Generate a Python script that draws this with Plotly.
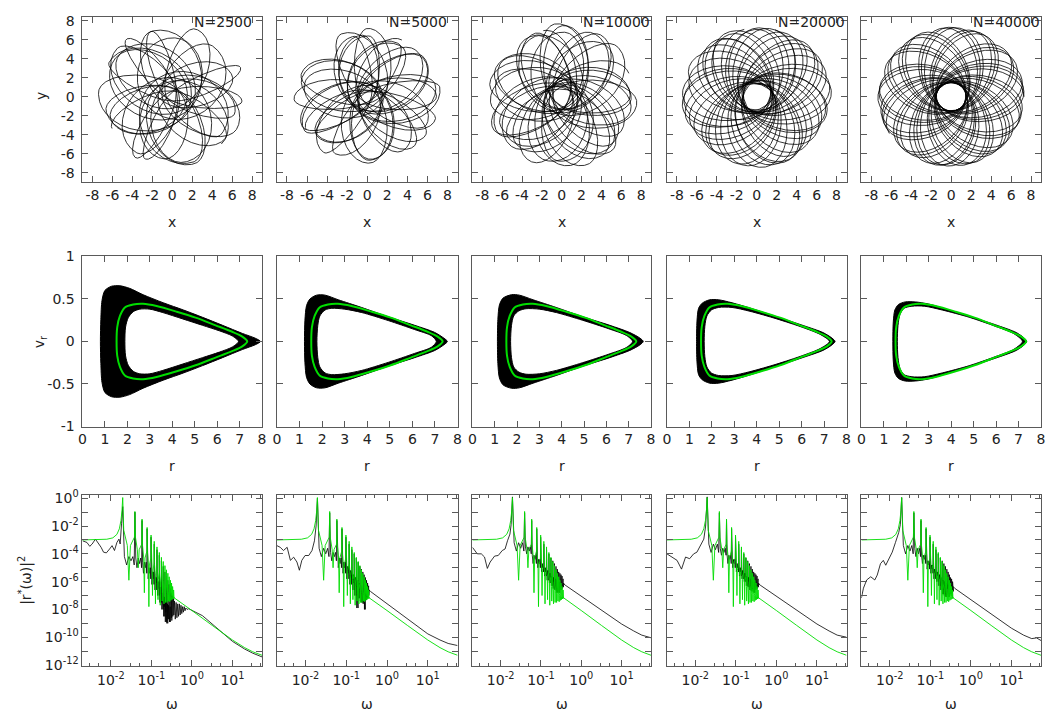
import numpy as np
import plotly.graph_objects as go
from plotly.subplots import make_subplots

# page = figure + default 8px body margin on each side -> exactly the 1055x724 window
PAGE_W, PAGE_H = 1055, 724
OFF = 8
W, H = PAGE_W - 2 * OFF, PAGE_H - 2 * OFF
FONT = "DejaVu Sans"
AXC = "#5a5a5a"
GREEN = "#00dd00"

PANEL_LABELS = ["N=2500", "N=5000", "N=10000", "N=20000", "N=40000"]

# ---------------- Row 1: orbit turning radii ----------------
PERI_2500 = [1.6, 0.9, 2.2, 1.2, 0.6, 2.4, 0.8, 1.9, 0.45, 0.35, 0.5, 0.4, 0.55, 0.38, 0.48,
             1.3, 2.0, 0.7, 1.7, 2.3, 1.0, 1.8, 0.9, 1.5, 2.1, 0.9, 1.4, 0.6]
APO_2500 = [7.0, 6.6, 7.4, 6.9, 7.5, 6.3, 7.2, 6.8, 7.3, 7.5, 7.1, 7.6, 7.0, 7.4, 7.2,
            6.5, 7.0, 6.9, 7.5, 6.2, 6.7, 7.3, 7.4, 6.6, 7.0, 7.2, 6.4, 6.9]
PERI_5000 = [1.0, 0.5, 1.4, 0.7, 1.7, 0.45, 1.1, 1.5, 0.6, 0.9, 1.3, 0.5, 1.6, 0.8, 1.2, 0.4,
             1.45, 1.0, 0.65, 1.55, 1.1, 0.55, 1.35, 0.85, 0.5, 1.65, 0.75, 1.25, 0.6, 1.4, 0.95, 0.7]
APO_5000 = [6.9, 7.2, 6.5, 7.0, 6.3, 7.3, 6.8, 6.4, 7.1, 6.9, 6.6, 7.2, 6.4, 7.0, 6.7, 7.3,
            6.5, 6.9, 7.1, 6.4, 6.8, 7.2, 6.6, 7.0, 7.3, 6.4, 6.9, 6.7, 7.2, 6.5, 6.9, 7.0]
PERI_10000 = [1.2, 0.8, 1.6, 1.0, 1.8, 0.9, 1.4, 1.7, 0.75, 1.3, 1.5, 0.9, 1.85, 1.1, 1.45, 0.8, 1.65, 1.25,
              1.0, 1.75, 1.35, 0.85, 1.55, 1.15, 0.8, 1.7, 1.05, 1.4, 0.95, 1.6, 1.2, 0.85, 1.5, 1.1, 1.8, 1.0]
APO_10000 = [7.2, 7.6, 6.9, 7.4, 6.8, 7.7, 7.1, 6.9, 7.5, 7.2, 7.0, 7.6, 6.8, 7.3, 7.1, 7.7, 6.9, 7.2,
             7.5, 6.8, 7.1, 7.6, 7.0, 7.3, 7.7, 6.9, 7.4, 7.1, 7.6, 6.9, 7.3, 7.5, 7.0, 7.4, 6.8, 7.2]
PERI_20000 = [1.55, 1.30, 1.72, 1.42, 1.62, 1.28, 1.76, 1.50, 1.38, 1.66, 1.33, 1.56, 1.74, 1.40,
              1.61, 1.30, 1.69, 1.47, 1.36, 1.63, 1.52, 1.34, 1.75, 1.43, 1.58, 1.31, 1.67, 1.49,
              1.39, 1.64, 1.45, 1.57, 1.29, 1.71, 1.44, 1.60, 1.35, 1.68, 1.48, 1.54]
APO_20000 = [7.20, 7.48, 7.08, 7.36, 7.24, 7.52, 7.04, 7.30, 7.42, 7.14, 7.46, 7.20, 7.06, 7.38,
             7.28, 7.50, 7.10, 7.32, 7.44, 7.16, 7.26, 7.47, 7.05, 7.36, 7.22, 7.45, 7.12, 7.30,
             7.41, 7.15, 7.34, 7.23, 7.49, 7.09, 7.37, 7.25, 7.43, 7.13, 7.31, 7.27]
PERI_40000 = [1.50, 1.47, 1.52, 1.46, 1.51, 1.49, 1.53, 1.45, 1.50, 1.52, 1.47, 1.51, 1.46, 1.50,
              1.53, 1.48, 1.45, 1.51, 1.50, 1.47, 1.52, 1.46, 1.49, 1.51, 1.50, 1.45, 1.52, 1.48,
              1.50, 1.49, 1.51, 1.47, 1.53, 1.46, 1.50, 1.48, 1.52, 1.47, 1.49, 1.51, 1.50, 1.48]
APO_40000 = [7.30, 7.27, 7.35, 7.25, 7.31, 7.28, 7.36, 7.26, 7.32, 7.30, 7.24, 7.33, 7.28, 7.31,
             7.26, 7.35, 7.30, 7.27, 7.32, 7.25, 7.31, 7.28, 7.34, 7.26, 7.30, 7.33, 7.27, 7.31,
             7.25, 7.30, 7.34, 7.28, 7.32, 7.26, 7.31, 7.29, 7.35, 7.27, 7.30, 7.33, 7.29, 7.31]
# orientation: apocentre angle (deg) of a reference loop in each panel
REF_LOOP = [8, 0, 0, 0, 0]
REF_LOOP_ANGLE_DEG = [150, 60, 20, 100, 0]

# ---------------- Row 2: phase-space curves (upper halves, mirrored) ----------------
GREEN_R = [1.52, 1.55, 1.67, 1.89, 2.26, 2.70, 3.30, 4.20, 5.04, 5.93, 6.67, 7.12, 7.34]
GREEN_VR = [0.0, 0.17, 0.30, 0.40, 0.435, 0.443, 0.417, 0.35, 0.28, 0.19, 0.114, 0.057, 0.0]

BAND_OUT_R = [
    [0.80, 0.82, 0.87, 1.00, 1.30, 1.67, 2.10, 2.70, 3.60, 4.50, 5.35, 6.24, 7.12, 7.70, 7.93],
    [1.22, 1.24, 1.31, 1.46, 1.76, 2.13, 2.72, 3.75, 4.93, 6.10, 6.99, 7.40, 7.55],
    [1.12, 1.14, 1.21, 1.37, 1.75, 2.10, 2.72, 3.75, 4.95, 6.15, 7.05, 7.50, 7.65],
    [1.32, 1.34, 1.41, 1.57, 1.90, 2.30, 2.90, 3.80, 4.95, 6.10, 6.95, 7.35, 7.49],
    [1.40, 1.42, 1.49, 1.65, 1.95, 2.40, 3.00, 3.90, 5.00, 6.10, 6.90, 7.25, 7.36],
]
BAND_OUT_VR = [
    [0.0, 0.26, 0.48, 0.60, 0.65, 0.655, 0.625, 0.55, 0.455, 0.37, 0.284, 0.19, 0.095, 0.038, 0.0],
    [0.0, 0.25, 0.42, 0.50, 0.545, 0.545, 0.49, 0.40, 0.29, 0.19, 0.106, 0.038, 0.0],
    [0.0, 0.26, 0.43, 0.51, 0.55, 0.545, 0.49, 0.40, 0.29, 0.19, 0.105, 0.04, 0.0],
    [0.0, 0.24, 0.39, 0.45, 0.49, 0.49, 0.455, 0.385, 0.285, 0.185, 0.105, 0.04, 0.0],
    [0.0, 0.23, 0.37, 0.435, 0.465, 0.465, 0.44, 0.37, 0.28, 0.185, 0.105, 0.04, 0.0],
]
BAND_IN_R = [
    [1.89, 1.92, 2.04, 2.26, 2.55, 3.00, 3.58, 4.47, 5.35, 6.10, 6.68, 6.95],
    [1.77, 1.81, 1.90, 2.13, 2.43, 3.00, 3.76, 4.93, 6.10, 6.84, 7.06],
    [1.71, 1.75, 1.85, 2.08, 2.40, 3.00, 3.76, 4.93, 6.10, 6.90, 7.17],
    [1.66, 1.69, 1.78, 1.98, 2.30, 2.90, 3.70, 4.90, 6.05, 6.85, 7.24],
    [1.60, 1.63, 1.72, 1.90, 2.25, 2.80, 3.60, 4.80, 5.95, 6.80, 7.17],
]
BAND_IN_VR = [
    [0.0, 0.17, 0.28, 0.35, 0.38, 0.38, 0.34, 0.265, 0.19, 0.125, 0.064, 0.0],
    [0.0, 0.19, 0.30, 0.37, 0.39, 0.38, 0.34, 0.246, 0.14, 0.068, 0.0],
    [0.0, 0.19, 0.30, 0.36, 0.385, 0.38, 0.34, 0.25, 0.15, 0.07, 0.0],
    [0.0, 0.18, 0.30, 0.37, 0.40, 0.40, 0.355, 0.265, 0.165, 0.08, 0.0],
    [0.0, 0.19, 0.32, 0.39, 0.415, 0.415, 0.37, 0.285, 0.18, 0.09, 0.0],
]

# ---------------- Row 3: spectra (log10 omega, log10 power) ----------------
LOG_W0 = -1.707           # fundamental radial frequency
HARMONICS = list(range(1, 19))

GREEN_LOW_LW = [-2.70, -2.40, -2.10, -1.95, -1.85, -1.79, -1.75, -1.725]
GREEN_LOW_LP = [-3.00, -3.00, -2.95, -2.85, -2.60, -2.20, -1.60, -0.90]
GREEN_PEAK = [0.05, -0.95, -1.5, -2.1, -2.65, -3.1, -3.5, -3.9, -4.25, -4.55, -4.85, -5.15,
              -5.4, -5.65, -5.9, -6.1, -6.35, -6.6]
GREEN_SHOULDER = [-2.3, -2.8, -3.3, -3.8, -4.3, -4.7, -5.0, -5.3, -5.6, -5.9, -6.1, -6.3,
                  -6.5, -6.7, -6.85, -6.95, -7.05, -7.1]
GREEN_BASE = [-3.4, -3.7, -4.3, -4.8, -5.2, -5.55, -5.85, -6.1, -6.35, -6.55, -6.7, -6.85,
              -6.95, -7.0, -7.05, -7.1, -7.12, -7.12]
GREEN_DIP = [-5.9, -5.0, -6.8, -7.8, -7.0, -7.6, -7.3, -7.7, -7.4, -7.6, -7.5, -7.5,
             -7.4, -7.45, -7.35, -7.3, -7.25, -7.2]
GREEN_TAIL_LW = [-0.46, -0.20, 0.00, 0.50, 1.00, 1.30, 1.50, 1.73]
GREEN_TAIL_LP = [-7.12, -7.65, -8.08, -9.15, -10.2, -10.75, -11.05, -11.3]

BLACK_LOW_LW = [
    [-2.70, -2.59, -2.52, -2.46, -2.38, -2.32, -2.24, -2.18, -2.11, -2.03, -1.97, -1.91, -1.85, -1.80, -1.77, -1.735],
    [-2.70, -2.62, -2.54, -2.45, -2.37, -2.29, -2.21, -2.15, -2.09, -2.01, -1.92, -1.84, -1.78, -1.74],
    [-2.70, -2.58, -2.48, -2.40, -2.33, -2.26, -2.15, -2.06, -1.96, -1.89, -1.83, -1.77, -1.74],
    [-2.70, -2.57, -2.45, -2.34, -2.24, -2.14, -2.04, -1.96, -1.88, -1.79, -1.745],
    [-2.70, -2.65, -2.57, -2.47, -2.37, -2.31, -2.23, -2.16, -2.10, -2.02, -1.94, -1.86, -1.78, -1.74],
]
BLACK_LOW_LP = [
    [-3.06, -3.18, -3.46, -3.29, -2.94, -3.18, -3.53, -3.88, -3.93, -3.65, -3.41, -3.76, -3.18, -2.94, -3.29, -1.8],
    [-3.41, -3.53, -3.76, -3.53, -4.47, -4.24, -4.59, -5.18, -4.47, -4.12, -4.12, -3.76, -3.06, -2.0],
    [-3.53, -4.00, -4.00, -4.23, -5.05, -4.59, -4.16, -4.12, -3.76, -3.65, -3.06, -2.58, -1.9],
    [-4.00, -4.23, -4.47, -5.10, -4.23, -4.35, -4.00, -3.88, -3.41, -2.94, -2.0],
    [-7.18, -6.47, -5.88, -5.65, -5.88, -5.53, -4.71, -4.47, -4.82, -4.35, -3.88, -3.18, -2.47, -1.9],
]
BLACK_PEAK = [
    [-0.6, -1.0, -1.6, -2.2, -2.8, -3.3, -3.7, -4.1, -4.5, -4.9, -5.3, -5.6, -5.9, -6.2, -6.5, -6.8, -7.0, -7.2],
    [0.0, -1.05, -1.6, -2.2, -2.8, -3.3, -3.7, -4.0, -4.3, -4.6, -4.9, -5.1, -5.3, -5.5, -5.7, -5.9, -6.1, -6.3],
    [0.1, -1.05, -1.6, -2.2, -2.8, -3.3, -3.7, -4.0, -4.3, -4.5, -4.7, -4.9, -5.1, -5.3, -5.4, -5.5, -5.6, -5.8],
    [0.1, -1.05, -1.6, -2.2, -2.8, -3.3, -3.7, -4.0, -4.3, -4.5, -4.7, -4.9, -5.1, -5.3, -5.4, -5.5, -5.6, -5.8],
    [0.05, -1.05, -1.6, -2.2, -2.8, -3.3, -3.7, -4.0, -4.3, -4.5, -4.7, -4.9, -5.1, -5.3, -5.5, -5.7, -5.8, -6.0],
]
BLACK_BASE = [
    [-4.2, -4.3, -4.6, -5.0, -5.3, -5.7, -6.0, -6.4, -6.8, -7.1, -7.4, -7.6, -7.7, -7.8, -7.8, -7.7, -7.6, -7.5],
    [-3.6, -3.9, -4.3, -4.6, -4.9, -5.2, -5.5, -5.7, -5.9, -6.1, -6.2, -6.3, -6.4, -6.5, -6.55, -6.6, -6.6, -6.6],
    [-3.2, -3.5, -4.1, -4.4, -4.7, -5.0, -5.2, -5.4, -5.6, -5.7, -5.8, -5.9, -6.0, -6.0, -6.05, -6.1, -6.1, -6.1],
    [-3.3, -3.6, -4.1, -4.4, -4.7, -5.0, -5.2, -5.4, -5.6, -5.7, -5.8, -5.9, -6.0, -6.0, -6.05, -6.1, -6.1, -6.1],
    [-3.4, -3.6, -4.1, -4.5, -4.8, -5.1, -5.3, -5.5, -5.7, -5.9, -6.0, -6.1, -6.2, -6.25, -6.3, -6.3, -6.35, -6.35],
]
BLACK_DROP_A = [
    [-4.8, -5.0, -5.4, -5.8, -6.2, -6.6, -7.0, -7.5, -8.0, -8.5, -8.9, -9.0, -8.7, -8.9, -8.6, -8.8, -8.5, -8.4],
    [-4.2, -4.5, -5.0, -5.4, -5.8, -6.2, -6.6, -7.0, -7.9, -7.2, -7.4, -7.5, -7.6, -8.0, -7.3, -7.2, -7.1, -7.0],
    [-3.8, -4.0, -4.7, -5.0, -5.3, -5.6, -5.9, -6.1, -6.3, -6.5, -6.6, -6.8, -6.7, -6.8, -6.6, -6.6, -6.5, -6.4],
    [-3.9, -4.1, -4.7, -5.0, -5.3, -5.6, -5.8, -6.0, -6.3, -6.4, -6.6, -6.7, -6.7, -6.8, -6.6, -6.5, -6.5, -6.4],
    [-4.0, -4.2, -4.7, -5.1, -5.4, -5.8, -6.0, -6.3, -6.6, -6.9, -7.0, -7.1, -7.0, -7.1, -6.9, -6.9, -6.8, -6.7],
]
BLACK_DROP_B = [
    [-4.5, -4.7, -5.0, -5.4, -5.8, -6.1, -6.5, -6.9, -7.4, -7.8, -8.2, -8.4, -8.3, -8.5, -8.3, -8.4, -8.2, -8.1],
    [-4.0, -4.2, -4.7, -5.0, -5.4, -5.7, -6.1, -6.3, -6.6, -6.8, -6.9, -7.0, -7.1, -7.2, -7.0, -6.9, -6.9, -6.8],
    [-3.6, -3.8, -4.4, -4.7, -5.0, -5.3, -5.5, -5.7, -5.9, -6.0, -6.2, -6.3, -6.4, -6.4, -6.4, -6.3, -6.3, -6.2],
    [-3.7, -3.9, -4.4, -4.7, -5.0, -5.3, -5.5, -5.7, -5.9, -6.0, -6.2, -6.3, -6.4, -6.4, -6.4, -6.3, -6.3, -6.2],
    [-3.8, -4.0, -4.4, -4.8, -5.1, -5.4, -5.6, -5.8, -6.0, -6.2, -6.3, -6.5, -6.5, -6.6, -6.6, -6.5, -6.5, -6.4],
]
BLACK_EXTRA_LW = [
    [-0.43, -0.41, -0.39, -0.37, -0.35, -0.33, -0.31, -0.29, -0.27, -0.25, -0.23, -0.21, -0.19, -0.17, -0.15, -0.12],
    [-0.44], [-0.44], [-0.44], [-0.44],
]
BLACK_EXTRA_LP = [
    [-7.4, -8.7, -7.5, -8.6, -7.6, -8.5, -7.6, -8.4, -7.7, -8.3, -7.8, -8.2, -7.8, -8.1, -7.9, -8.0],
    [-6.6], [-6.15], [-6.15], [-6.35],
]
BLACK_TAIL_LW = [
    [-0.08, 0.26, 0.50, 1.00, 1.30, 1.50, 1.73],
    [-0.40, 0.00, 0.50, 1.00, 1.30, 1.50, 1.73],
    [-0.40, 0.00, 0.50, 1.00, 1.30, 1.50, 1.73],
    [-0.40, 0.00, 0.50, 1.00, 1.30, 1.50, 1.73],
    [-0.40, 0.00, 0.50, 1.00, 1.30, 1.50, 1.62, 1.73],
]
BLACK_TAIL_LP = [
    [-7.95, -8.45, -9.05, -10.3, -10.85, -11.15, -11.42],
    [-6.72, -7.60, -8.65, -9.76, -10.2, -10.45, -10.6],
    [-6.25, -7.05, -8.05, -9.05, -9.55, -9.85, -10.04],
    [-6.25, -7.05, -8.05, -9.05, -9.55, -9.85, -10.0],
    [-6.48, -7.30, -8.30, -9.35, -9.85, -10.1, -10.05, -10.24],
]

# ---------------- layout geometry (pixels in the 1055x724 window) ----------------
COL_PX = [(79, 260), (275, 457), (472, 652), (668, 849), (864, 1045)]
ROW_PX = [(9, 178), (254, 428), (498, 673)]


def fx(px):
    return (px - OFF) / W


def fy(py):
    return 1 - (py - OFF) / H


def phi(r):
    return -1.0 / np.sqrt(r * r + 1.0)


def half_orbit(rp, ra, outward, nu=160):
    L2 = 2.0 * (phi(ra) - phi(rp)) / (1.0 / rp ** 2 - 1.0 / ra ** 2)
    E = 0.5 * L2 / rp ** 2 + phi(rp)
    u = np.linspace(0.0, np.pi, nu + 1)
    du = u[1] - u[0]
    um = 0.5 * (u[1:] + u[:-1])
    rm = 0.5 * (ra + rp) - 0.5 * (ra - rp) * np.cos(um)
    vr = np.sqrt(np.maximum(2.0 * (E - phi(rm)) - L2 / rm ** 2, 1e-14))
    dth = np.sqrt(L2) / rm ** 2 * 0.5 * (ra - rp) * np.sin(um) / vr * du
    r = 0.5 * (ra + rp) - 0.5 * (ra - rp) * np.cos(u)
    th = np.concatenate([[0.0], np.cumsum(dth)])
    if not outward:
        r = r[::-1]
        th = th[-1] - th[::-1]
    return r, th


def orbit_xy(peri, apo, ref_loop, ref_deg):
    th0 = 0.0
    rs, ts, apo_angles = [], [], []
    K = len(peri)
    for k in range(K):
        apo_angles.append(th0)
        r1, t1 = half_orbit(peri[k], apo[k], outward=False)
        rs.append(r1)
        ts.append(t1 + th0)
        th0 = th0 + t1[-1]
        r2, t2 = half_orbit(peri[k], apo[min(k + 1, K - 1)], outward=True)
        rs.append(r2)
        ts.append(t2 + th0)
        th0 = th0 + t2[-1]
    r = np.concatenate(rs)
    t = np.concatenate(ts) + (np.deg2rad(ref_deg) - apo_angles[ref_loop])
    return r * np.cos(t), r * np.sin(t)


def closed(rl, vl):
    r = list(rl) + list(rl[::-1][1:])
    v = list(vl) + [-x for x in vl[::-1][1:]]
    return r, v


def lw_of(n):
    return LOG_W0 + np.log10(n)


def spectrum_green():
    lw = list(GREEN_LOW_LW)
    lp = list(GREEN_LOW_LP)
    for i, n in enumerate(HARMONICS):
        if i > 0:
            lw.append(lw_of(n - 0.05))
            lp.append(GREEN_SHOULDER[i])
        lw += [lw_of(n), lw_of(n + 0.06), lw_of(n + 0.3), lw_of(n + 0.42), lw_of(n + 0.55)]
        lp += [GREEN_PEAK[i], GREEN_SHOULDER[i], GREEN_BASE[i], GREEN_DIP[i], GREEN_BASE[i]]
    lw += GREEN_TAIL_LW
    lp += GREEN_TAIL_LP
    return 10 ** np.array(lw), 10 ** np.array(lp)


def spectrum_black(j):
    lw = list(BLACK_LOW_LW[j])
    lp = list(BLACK_LOW_LP[j])
    for i, n in enumerate(HARMONICS):
        lw += [lw_of(n), lw_of(n + 0.1), lw_of(n + 0.25), lw_of(n + 0.42),
               lw_of(n + 0.6), lw_of(n + 0.78), lw_of(n + 0.92)]
        lp += [BLACK_PEAK[j][i], BLACK_BASE[j][i], BLACK_DROP_A[j][i], BLACK_BASE[j][i],
               BLACK_DROP_B[j][i], BLACK_BASE[j][i], BLACK_DROP_A[j][i]]
    lw += BLACK_EXTRA_LW[j] + BLACK_TAIL_LW[j]
    lp += BLACK_EXTRA_LP[j] + BLACK_TAIL_LP[j]
    return 10 ** np.array(lw), 10 ** np.array(lp)


fig = make_subplots(rows=3, cols=5)

ORBITS = [(PERI_2500, APO_2500), (PERI_5000, APO_5000), (PERI_10000, APO_10000),
          (PERI_20000, APO_20000), (PERI_40000, APO_40000)]

for c in range(5):
    x, y = orbit_xy(ORBITS[c][0], ORBITS[c][1], REF_LOOP[c], REF_LOOP_ANGLE_DEG[c])
    fig.add_trace(go.Scatter(x=x, y=y, mode="lines", line=dict(color="black", width=0.8),
                             hoverinfo="skip", showlegend=False), row=1, col=c + 1)

    ro, vo = closed(BAND_OUT_R[c], BAND_OUT_VR[c])
    fig.add_trace(go.Scatter(x=ro, y=vo, mode="lines", fill="toself", fillcolor="black",
                             line=dict(color="black", width=1, shape="spline", smoothing=0.8),
                             hoverinfo="skip", showlegend=False), row=2, col=c + 1)
    ri, vi = closed(BAND_IN_R[c], BAND_IN_VR[c])
    fig.add_trace(go.Scatter(x=ri, y=vi, mode="lines", fill="toself", fillcolor="white",
                             line=dict(color="black", width=1, shape="spline", smoothing=0.8),
                             hoverinfo="skip", showlegend=False), row=2, col=c + 1)
    rg, vg = closed(GREEN_R, GREEN_VR)
    fig.add_trace(go.Scatter(x=rg, y=vg, mode="lines",
                             line=dict(color=GREEN, width=2, shape="spline", smoothing=0.8),
                             hoverinfo="skip", showlegend=False), row=2, col=c + 1)

    bx, by = spectrum_black(c)
    fig.add_trace(go.Scatter(x=bx, y=by, mode="lines", line=dict(color="black", width=0.8),
                             hoverinfo="skip", showlegend=False), row=3, col=c + 1)
    gx, gy = spectrum_green()
    fig.add_trace(go.Scatter(x=gx, y=gy, mode="lines", line=dict(color=GREEN, width=0.9),
                             hoverinfo="skip", showlegend=False), row=3, col=c + 1)

tickfont = dict(family=FONT, size=14, color="#222")
common = dict(showline=True, linecolor=AXC, linewidth=1, mirror="ticks", ticks="inside",
              tickcolor=AXC, ticklen=6, showgrid=False, zeroline=False, tickfont=tickfont,
              tickangle=0)

EVEN_TICKS = list(range(-8, 9, 2))
EVEN_TEXT = [str(v) for v in EVEN_TICKS]

for r in range(3):
    for c in range(5):
        idx = r * 5 + c + 1
        xa = "xaxis" if idx == 1 else "xaxis%d" % idx
        ya = "yaxis" if idx == 1 else "yaxis%d" % idx
        x0, x1 = COL_PX[c]
        y0, y1 = ROW_PX[r]
        xd = [fx(x0), fx(x1)]
        yd = [fy(y1), fy(y0)]
        if r == 0:
            xs = dict(range=[-9, 9], tickvals=EVEN_TICKS, ticktext=EVEN_TEXT, ticklabelstandoff=0)
            ys = dict(range=[-9, 8.4], tickvals=EVEN_TICKS, ticktext=EVEN_TEXT,
                      showticklabels=(c == 0), ticklabelstandoff=4)
        elif r == 1:
            xs = dict(range=[0, 8], tickvals=list(range(0, 9)),
                      ticktext=[str(v) for v in range(0, 9)], ticklabelstandoff=0)
            ys = dict(range=[-1, 1], tickvals=[-1, -0.5, 0, 0.5, 1],
                      ticktext=["-1", "-0.5", "0", "0.5", "1"], showticklabels=(c == 0),
                      ticklabelstandoff=4)
        else:
            xs = dict(type="log", range=[-2.70, 1.73], tickvals=[1e-2, 1e-1, 1, 10],
                      ticktext=["10<sup>-2</sup>", "10<sup>-1</sup>", "10<sup>0</sup>", "10<sup>1</sup>"],
                      ticklabelstandoff=1,
                      minor=dict(ticks="inside", ticklen=3, tickcolor=AXC,
                                 tickvals=[3e-3, 5e-3, 3e-2, 5e-2, 0.3, 0.5, 3, 5, 30, 50]))
            ys = dict(type="log", range=[-12.07, 0.24],
                      tickvals=[10.0 ** (-k) for k in range(0, 13, 2)],
                      ticktext=["10<sup>%d</sup>" % (-k) if k else "10<sup>0</sup>" for k in range(0, 13, 2)],
                      showticklabels=(c == 0), ticklabelstandoff=0,
                      minor=dict(ticks="inside", ticklen=6, tickcolor=AXC,
                                 tickvals=[10.0 ** (-k) for k in range(1, 13, 2)]))
        fig.layout[xa].update(domain=xd, **common, **xs)
        fig.layout[ya].update(domain=yd, **common, **ys)

ann = []


def px_ann(text, px, py, size=14, angle=0, xanchor="center"):
    ann.append(dict(text=text, x=fx(px), y=fy(py), xref="paper", yref="paper",
                    showarrow=False, font=dict(family=FONT, size=size, color="#222"),
                    textangle=angle, xanchor=xanchor, yanchor="middle"))


for c in range(5):
    cx = (COL_PX[c][0] + COL_PX[c][1]) / 2
    px_ann("x", cx, 219)
    px_ann("r", cx, 468)
    px_ann("ω", cx, 712)
    px_ann(PANEL_LABELS[c], COL_PX[c][1] - 71, 14, xanchor="left")
px_ann("y", 37, 90, angle=-90)
px_ann("v<sub>r</sub>", 37, 341, angle=-90)
px_ann("|r<sup>*</sup>(ω)|<sup>2</sup>", 22, 585, angle=-90)

fig.update_layout(width=W, height=H, margin=dict(l=0, r=0, t=0, b=0),
                  paper_bgcolor="white", plot_bgcolor="white", annotations=ann,
                  font=dict(family=FONT, size=14, color="#222"), showlegend=False)

fig.write_html("out.html", config={"displayModeBar": False})
